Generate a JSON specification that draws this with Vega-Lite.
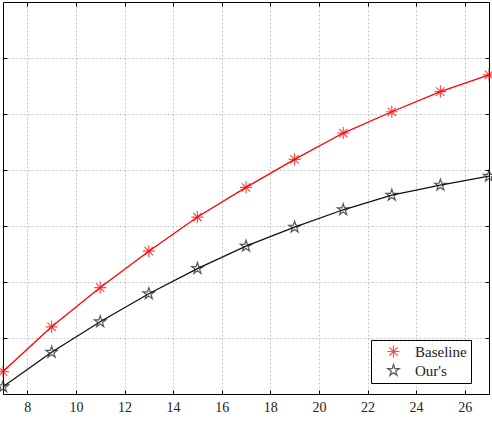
{
  "$schema": "https://vega.github.io/schema/vega-lite/v6.json",
  "width": 486,
  "height": 392,
  "autosize": {"type": "none"},
  "padding": {"left": 3, "top": 2, "right": 3, "bottom": 34},
  "background": "white",
  "config": {
    "view": {"stroke": null},
    "font": "Liberation Serif",
    "axis": {
      "domainColor": "black",
      "domainWidth": 1,
      "tickColor": "black",
      "tickWidth": 1,
      "gridColor": "#c4c4c4",
      "gridDash": [2, 2],
      "gridWidth": 1,
      "labelFont": "Liberation Serif",
      "labelFontSize": 14,
      "labelColor": "#222",
      "title": null
    },
    "legend": {
      "orient": "none",
      "legendX": 368,
      "legendY": 338,
      "strokeColor": "black",
      "fillColor": "white",
      "padding": 4,
      "labelFont": "Liberation Serif",
      "labelFontSize": 15,
      "labelColor": "#222",
      "title": null,
      "rowPadding": 2,
      "symbolSize": 144,
      "symbolStrokeWidth": 1.2,
      "symbolOffset": 11,
      "labelOffset": 14
    }
  },
  "data": {
    "values": [
      {"x": 7, "v": 0.40, "series": "Baseline"},
      {"x": 9, "v": 1.20, "series": "Baseline"},
      {"x": 11, "v": 1.90, "series": "Baseline"},
      {"x": 13, "v": 2.55, "series": "Baseline"},
      {"x": 15, "v": 3.16, "series": "Baseline"},
      {"x": 17, "v": 3.69, "series": "Baseline"},
      {"x": 19, "v": 4.19, "series": "Baseline"},
      {"x": 21, "v": 4.66, "series": "Baseline"},
      {"x": 23, "v": 5.04, "series": "Baseline"},
      {"x": 25, "v": 5.40, "series": "Baseline"},
      {"x": 27, "v": 5.70, "series": "Baseline"},
      {"x": 7, "v": 0.13, "series": "Our's"},
      {"x": 9, "v": 0.745, "series": "Our's"},
      {"x": 11, "v": 1.29, "series": "Our's"},
      {"x": 13, "v": 1.79, "series": "Our's"},
      {"x": 15, "v": 2.24, "series": "Our's"},
      {"x": 17, "v": 2.64, "series": "Our's"},
      {"x": 19, "v": 2.98, "series": "Our's"},
      {"x": 21, "v": 3.29, "series": "Our's"},
      {"x": 23, "v": 3.55, "series": "Our's"},
      {"x": 25, "v": 3.73, "series": "Our's"},
      {"x": 27, "v": 3.89, "series": "Our's"}
    ]
  },
  "layer": [
    {
      "mark": {"type": "line", "strokeWidth": 1.3, "clip": false},
      "encoding": {
        "x": {
          "field": "x", "type": "quantitative",
          "scale": {"domain": [7, 27], "nice": false, "zero": false},
          "axis": {
            "orient": "bottom",
            "values": [8, 10, 12, 14, 16, 18, 20, 22, 24, 26],
            "grid": true,
            "tickSize": -4,
            "labelPadding": 10
          }
        },
        "y": {
          "field": "v", "type": "quantitative",
          "scale": {"domain": [0, 7], "nice": false, "zero": false},
          "axis": {
            "orient": "left",
            "values": [1, 2, 3, 4, 5, 6],
            "grid": true,
            "tickSize": -4,
            "labels": false
          }
        },
        "color": {
          "field": "series", "type": "nominal",
          "scale": {"domain": ["Baseline", "Our's"], "range": ["#ff0000", "#111111"]}
        }
      }
    },
    {
      "mark": {"type": "point", "filled": false, "size": 144, "strokeWidth": 1.2, "clip": false},
      "encoding": {
        "x": {
          "field": "x", "type": "quantitative",
          "axis": {
            "orient": "top",
            "values": [8, 10, 12, 14, 16, 18, 20, 22, 24, 26],
            "grid": false,
            "tickSize": -4,
            "labels": false
          }
        },
        "y": {
          "field": "v", "type": "quantitative",
          "axis": {
            "orient": "right",
            "values": [1, 2, 3, 4, 5, 6],
            "grid": false,
            "tickSize": -4,
            "labels": false
          }
        },
        "color": {
          "field": "series", "type": "nominal",
          "scale": {"domain": ["Baseline", "Our's"], "range": ["#ff0000", "#111111"]}
        },
        "shape": {
          "field": "series", "type": "nominal",
          "scale": {
            "domain": ["Baseline", "Our's"],
            "range": [
              "M-1,0L1,0M0,-1L0,1M-0.7,-0.7L0.7,0.7M-0.7,0.7L0.7,-0.7",
              "M0,-1L0.2245,-0.309L0.951,-0.309L0.363,0.118L0.588,0.809L0,0.382L-0.588,0.809L-0.363,0.118L-0.951,-0.309L-0.2245,-0.309Z"
            ]
          }
        }
      }
    }
  ],
  "resolve": {"axis": {"x": "independent", "y": "independent"}}
}
